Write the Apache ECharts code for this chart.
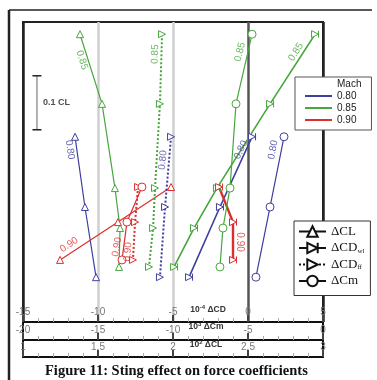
<!DOCTYPE html>
<html>
<head>
<meta charset="utf-8">
<script src="https://cdn.jsdelivr.net/npm/echarts@6/dist/echarts.min.js"></script>
<style>
  html, body { margin: 0; padding: 0; background: #fff; }
  #chart { width: 377px; height: 380px; }
</style>
</head>
<body>
<div id="chart"></div>
<script>
// CL level of each test point, per Mach number
var clM080 = [0.343, 0.213, 0.083];
var clM085 = [0.533, 0.404, 0.248, 0.174, 0.102];
var clM090 = [0.250, 0.185, 0.115];

// 10^2 dCL
var dCL080 = [1.347, 1.413, 1.487];
var dCL085 = [1.380, 1.527, 1.613, 1.647, 1.640];
var dCL090 = [1.987, 1.633, 1.247];

// 10^4 dCD (wall / far field)
var dCDwl080 = [0.27, -1.87, -3.93];
var dCDwl085 = [4.47, 1.47, -2.07, -3.60, -4.93];
var dCDwl090 = [-1.93, -1.00, -1.00];
var dCDff080 = [-5.13, -5.53, -5.87];
var dCDff085 = [-5.73, -5.87, -6.20, -6.33, -6.60];
var dCDff090 = [-7.33, -7.53, -7.67];

// 10^3 dCm
var dCm080 = [-2.60, -3.53, -4.47];
var dCm085 = [-4.73, -5.80, -6.20, -6.67, -6.87];
var dCm090 = [-12.07, -13.07, -13.40];

var cdTicks = [-15, 5, 5];
var cmTicks = [-20, 0, 5];
var clTicks = [1, 3, 0.5];
var machNames = ['0.80', '0.85', '0.90'];

var colors = {'0.80': '#3f3f9f', '0.85': '#47a63d', '0.90': '#dc2e2e'};
var WL = 'path://M0,0L9,5L0,10ZM9,0L9,10';
var kinds = {
  dCL: {symbol: 'triangle', size: 7, rotate: 0, type: 'solid', width: 1.2, axis: 2},
  dCDwl: {symbol: WL, size: 7, rotate: 0, type: 'solid', width: 1.6, axis: 0},
  dCDff: {symbol: 'triangle', size: 7, rotate: -90, type: [2, 2], width: 2, axis: 0},
  dCm: {symbol: 'circle', size: 8, rotate: 0, type: 'solid', width: 1.2, axis: 1}
};

// curve tags: ΔCD-axis position, CL, text, rotation
var tags = [
  [-11.07, 0.485, '0.85', -73], [-11.87, 0.319, '0.80', -82], [-11.93, 0.143, '0.90', 33],
  [-6.20, 0.496, '0.85', 88], [-5.67, 0.300, '0.80', 85],
  [-8.73, 0.139, '0.90', 80], [-8.00, 0.130, '0.90', 85],
  [-0.53, 0.500, '0.85', 77], [3.20, 0.500, '0.85', 57],
  [-0.47, 0.319, '0.80', 65], [1.67, 0.319, '0.80', 79], [-0.53, 0.148, '0.90', -90]
];

function curve(kind, mach, xs, cls, width) {
  var k = kinds[kind];
  var c = colors[mach];
  return {
    name: kind + ' ' + mach, type: 'line', xAxisIndex: k.axis, yAxisIndex: 0,
    data: xs.map(function (v, i) { return [v, cls[i]]; }),
    symbol: k.symbol, symbolSize: k.size, symbolRotate: k.rotate, showAllSymbol: true,
    lineStyle: {color: c, width: width || k.width, type: k.type},
    itemStyle: {color: '#fff', borderColor: c, borderWidth: 1},
    silent: true, z: 3
  };
}

function keySeries(kind) {
  var k = kinds[kind];
  return {
    name: kind, type: 'line', data: [], symbol: k.symbol, symbolSize: k.size, symbolRotate: k.rotate,
    lineStyle: {color: '#111', width: k.width, type: k.type},
    itemStyle: {color: '#fff', borderColor: '#111', borderWidth: 1}
  };
}

function bottomAxis(t, offset) {
  return {
    type: 'value', min: t[0], max: t[1], interval: t[2], position: 'bottom', offset: offset,
    axisLine: {show: true, onZero: false, lineStyle: {color: '#111', width: 2}},
    axisTick: {show: true, inside: true, length: 7, lineStyle: {color: '#444', width: 2}},
    minorTick: {show: true, splitNumber: 5, length: 4, lineStyle: {color: '#aaa', width: 1}},
    axisLabel: {inside: true, margin: 5, color: '#777', fontSize: 10, fontFamily: 'Liberation Sans'},
    splitLine: {show: false}
  };
}

var series = [
  curve('dCL', '0.80', dCL080, clM080),
  curve('dCL', '0.85', dCL085, clM085),
  curve('dCL', '0.90', dCL090, clM090),
  curve('dCDwl', '0.80', dCDwl080, clM080),
  curve('dCDwl', '0.85', dCDwl085, clM085),
  curve('dCDwl', '0.90', dCDwl090, clM090, 2.4),
  curve('dCDff', '0.80', dCDff080, clM080),
  curve('dCDff', '0.85', dCDff085, clM085),
  curve('dCDff', '0.90', dCDff090, clM090),
  curve('dCm', '0.80', dCm080, clM080),
  curve('dCm', '0.85', dCm085, clM085),
  curve('dCm', '0.90', dCm090, clM090),
  {
    name: 'tags', type: 'scatter', symbolSize: 0, silent: true, z: 4,
    data: tags.map(function (t) {
      return {value: [t[0], t[1]], name: t[2],
        label: {show: true, formatter: t[2], rotate: t[3], color: colors[t[2]], position: 'inside',
          fontSize: 10, fontFamily: 'Liberation Sans'}};
    })
  },
  // 0.1 CL scale bar
  {
    name: 'scale', type: 'line', silent: true, data: [[-14.07, 0.356], [-14.07, 0.456]],
    symbol: 'rect', symbolSize: [9, 1.5], itemStyle: {color: '#222'},
    lineStyle: {color: '#999', width: 1.5}
  },
  {
    name: 'scaleText', type: 'scatter', silent: true, symbolSize: 0, data: [[-14.07, 0.406]],
    label: {show: true, position: 'right', distance: 6, formatter: '0.1 CL', color: '#222',
      fontSize: 9, fontWeight: 'bold', fontFamily: 'Liberation Sans'}
  },
  {name: 'Mach', type: 'line', data: []}
];
machNames.forEach(function (m) {
  series.push({name: m, type: 'line', data: [], symbol: 'none', itemStyle: {color: colors[m]}, lineStyle: {color: colors[m]}});
});
['dCL', 'dCDwl', 'dCDff', 'dCm'].forEach(function (k) { series.push(keySeries(k)); });

var keyText = {dCL: '{t|ΔCL}', dCDwl: '{t|ΔCD}{s|wl}', dCDff: '{t|ΔCD}{s|ff}', dCm: '{t|ΔCm}'};
var nameRich = {
  n: {fontSize: 8.5, fontWeight: 'bold', fill: '#333', fontFamily: 'Liberation Sans'},
  p: {fontSize: 6, fontWeight: 'bold', fill: '#333', fontFamily: 'Liberation Sans', padding: [0, 0, 5, 0]}
};

var chart = echarts.init(document.getElementById('chart'));
chart.setOption({
  animation: false,
  title: {
    text: 'Figure 11: Sting effect on force coefficients', left: 45, top: 364, padding: 0,
    textStyle: {fontFamily: 'Liberation Serif', fontWeight: 'bold', fontSize: 14.5, color: '#111'}
  },
  grid: {left: 23, right: 54, top: 22, bottom: 58, show: true, borderColor: '#222', borderWidth: 2},
  xAxis: [
    Object.assign(bottomAxis(cdTicks, 0), {
      splitLine: {show: true, lineStyle: {color: ['#222', '#cfcfcf', '#cfcfcf', '#555', '#222'], width: 2.5}}
    }),
    bottomAxis(cmTicks, 18),
    bottomAxis(clTicks, 35)
  ],
  yAxis: {type: 'value', min: 0, max: 0.5556, show: false},
  legend: [
    {
      data: [{name: 'Mach', icon: 'none'}].concat(machNames.map(function (m) { return {name: m, icon: 'rect'}; })),
      orient: 'vertical', left: 295, top: 77, padding: [1, 10, 4, 10], itemGap: 0,
      itemWidth: 27, itemHeight: 2, selectedMode: false,
      backgroundColor: '#fff', borderColor: '#555', borderWidth: 1,
      textStyle: {fontSize: 10, color: '#222', fontFamily: 'Liberation Sans', lineHeight: 12}
    },
    {
      data: ['dCL', 'dCDwl', 'dCDff', 'dCm'],
      orient: 'vertical', left: 294, top: 221, padding: [4, 6, 8, 4], itemGap: 3.5,
      itemWidth: 27, itemHeight: 13, selectedMode: false,
      backgroundColor: '#fff', borderColor: '#333', borderWidth: 1,
      formatter: function (name) { return keyText[name]; },
      textStyle: {
        rich: {
          t: {fontFamily: 'Liberation Serif', fontSize: 13, color: '#111'},
          s: {fontFamily: 'Liberation Serif', fontSize: 7, color: '#111', padding: [6, 0, 0, 0]}
        }
      }
    }
  ],
  graphic: [
    {type: 'line', shape: {x1: 9, y1: 10, x2: 372, y2: 10}, style: {stroke: '#222', lineWidth: 1.5}},
    {type: 'line', shape: {x1: 9, y1: 10, x2: 9, y2: 380}, style: {stroke: '#222', lineWidth: 2.5}},
    {type: 'line', shape: {x1: 23, y1: 322, x2: 23, y2: 358}, style: {stroke: '#111', lineWidth: 2}},
    {type: 'line', shape: {x1: 323, y1: 322, x2: 323, y2: 358}, style: {stroke: '#111', lineWidth: 2}},
    {type: 'text', x: 208, y: 310, style: {text: '{n|10}{p|-4}{n| ΔCD}', align: 'center', verticalAlign: 'middle', rich: nameRich}},
    {type: 'text', x: 206, y: 327, style: {text: '{n|10}{p|3}{n| ΔCm}', align: 'center', verticalAlign: 'middle', rich: nameRich}},
    {type: 'text', x: 206, y: 345, style: {text: '{n|10}{p|2}{n| ΔCL}', align: 'center', verticalAlign: 'middle', rich: nameRich}}
  ],
  series: series
});
</script>
</body>
</html>
